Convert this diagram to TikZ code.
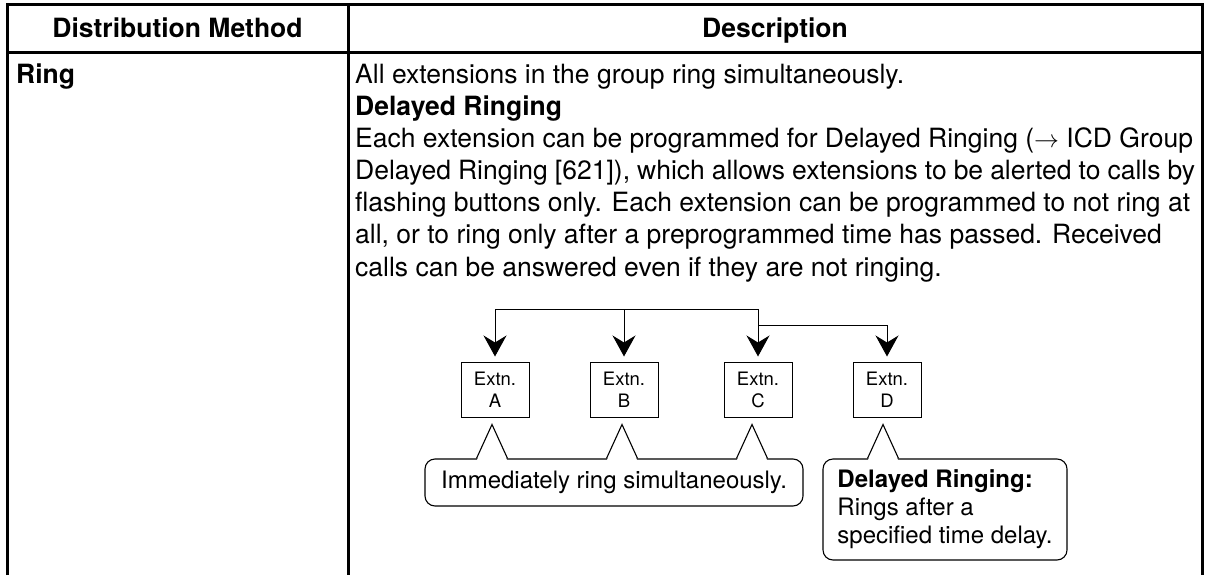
\documentclass[tikz,border=0pt]{standalone}
\usepackage{fontspec}
\setmainfont{TeX Gyre Heros}
\usetikzlibrary{arrows.meta,calc}

\tikzset{
  frame/.style = {line width = 3pt},
  bodyfont/.style = {font = \fontsize{26.5}{32}\selectfont},
  headfont/.style = {font = \bfseries\fontsize{26.5}{32}\selectfont},
  extn/.style = {draw, line width = 1pt, minimum width = 68pt, minimum height = 55pt,
    inner sep = 0pt, align = center, font = \fontsize{18.5}{22}\selectfont},
  callout/.style = {draw, line width = 1.1pt, rounded corners = 10pt, inner sep = 0pt,
    align = left, font = \fontsize{24}{28}\selectfont},
  feed/.style = {line width = 1pt, -{Stealth[length = 21pt, width = 23pt, inset = 7pt]}},
}

\begin{document}
\begin{tikzpicture}[x = 1pt, y = -1pt]
\useasboundingbox (0,0) rectangle (1206,575);

% table frame
\draw[frame] (7,575) -- (7,5) -- (1202,5) -- (1202,575);
\draw[frame] (7,53) -- (1202,53);
\draw[frame] (348,5) -- (348,575);

\node[headfont, anchor = base] (hmethod) at (177.5,38) {Distribution Method};
\node[headfont, anchor = base] (hdesc) at (775,38) {Description};
\node[headfont, anchor = base west, inner sep = 0pt] (ring) at (16,84) {Ring};
\node[bodyfont, anchor = base west, inner sep = 0pt] (desc) at (355,84) {\parbox[t]{840pt}{%
All extensions in the group ring simultaneously.\\
\textbf{Delayed Ringing}\\
Each extension can be programmed for Delayed Ringing ($\rightarrow$ ICD Group\\
Delayed Ringing [621]), which allows extensions to be alerted to calls by\\
flashing buttons only. Each extension can be programmed to not ring at\\
all, or to ring only after a preprogrammed time has passed. Received\\
calls can be answered even if they are not ringing.}};

% extensions
\node[extn] (extA) at (495,389.5) {Extn.\\A};
\node[extn] (extB) at (624,389.5) {Extn.\\B};
\node[extn] (extC) at (758,389.5) {Extn.\\C};
\node[extn] (extD) at (887,389.5) {Extn.\\D};

% incoming call lines
\coordinate (bus) at (0,309);
\coordinate (tap) at (0,325);
\draw[line width = 1pt] (extA.north |- bus) -- (extC.north |- bus);
\foreach \e in {extA,extB,extC}
  \draw[feed] (\e.north |- bus) -- ([yshift = 5pt]\e.north);
\draw[feed] (extC.north |- tap) -| ([yshift = 5pt]extD.north);

% callouts
\node[callout, minimum width = 378pt, minimum height = 47pt] (imm) at (614,482.5)
  {Immediately ring simultaneously.};
\node[callout, minimum width = 244pt, minimum height = 101pt] (del) at (945,509.5)
  {\textbf{Delayed Ringing:}\\Rings after a\\specified time delay.};

\foreach \b/\c/\s in {extA/imm/-3, extB/imm/-2, extC/imm/-6, extD/del/-4} {
  \coordinate (pk) at ([xshift = \s pt, yshift = -7pt]\b.south);
  \fill[white] ($(pk |- \c.north)+(-15,1.5)$) -- (pk) -- ($(pk |- \c.north)+(15,1.5)$) -- cycle;
  \draw[line width = 1.1pt] ($(pk |- \c.north)+(-15.5,0)$) -- (pk) -- ($(pk |- \c.north)+(15.5,0)$);
}
\end{tikzpicture}
\end{document}
